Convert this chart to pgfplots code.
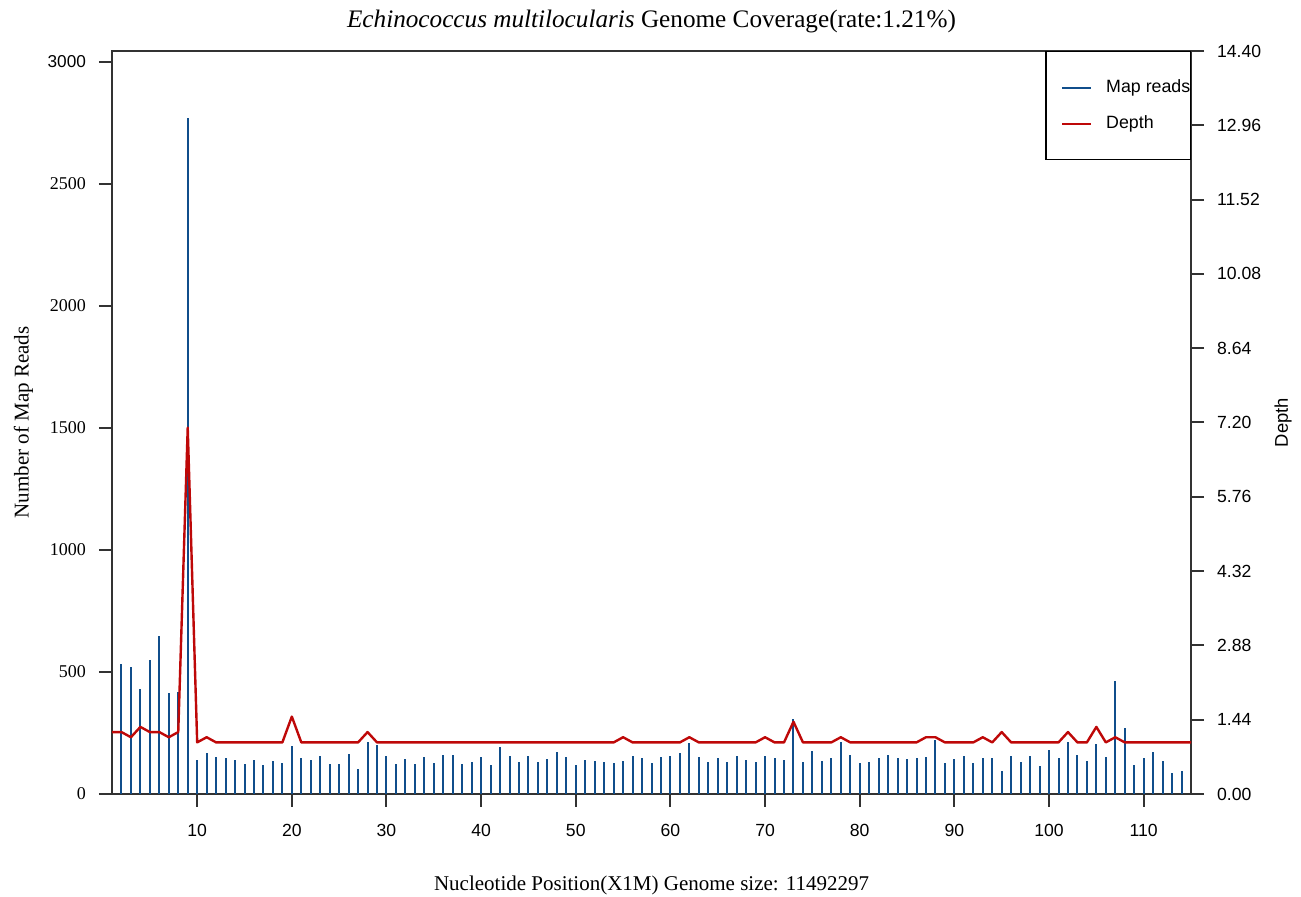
\documentclass[border=0pt]{standalone}
\usepackage{fontspec}
\setmainfont{Liberation Serif}
\setsansfont{Liberation Sans}
\usepackage{pgfplots}
\usepackage{pgfplotstable}
\pgfplotsset{compat=1.18}

\definecolor{barblue}{RGB}{16,78,139}
\definecolor{depthred}{RGB}{190,8,8}
\definecolor{axisgray}{RGB}{50,50,50}

% x, map reads, depth
\pgfplotstableread{
x reads depth
1 nan 1.2
2 531 1.2
3 520 1.1
4 430 1.3
5 548 1.2
6 649 1.2
7 415 1.1
8 418 1.2
9 2769 7.1
10 139 1.0
11 169 1.1
12 150 1.0
13 149 1.0
14 139 1.0
15 123 1.0
16 139 1.0
17 120 1.0
18 137 1.0
19 128 1.0
20 197 1.5
21 148 1.0
22 139 1.0
23 156 1.0
24 123 1.0
25 124 1.0
26 164 1.0
27 102 1.0
28 213 1.2
29 200 1.0
30 155 1.0
31 123 1.0
32 143 1.0
33 123 1.0
34 152 1.0
35 126 1.0
36 160 1.0
37 158 1.0
38 124 1.0
39 133 1.0
40 150 1.0
41 117 1.0
42 194 1.0
43 156 1.0
44 130 1.0
45 156 1.0
46 133 1.0
47 145 1.0
48 171 1.0
49 152 1.0
50 119 1.0
51 139 1.0
52 135 1.0
53 130 1.0
54 126 1.0
55 135 1.1
56 156 1.0
57 146 1.0
58 126 1.0
59 152 1.0
60 156 1.0
61 168 1.0
62 210 1.1
63 153 1.0
64 133 1.0
65 149 1.0
66 133 1.0
67 154 1.0
68 141 1.0
69 131 1.0
70 154 1.1
71 148 1.0
72 141 1.0
73 307 1.4
74 130 1.0
75 176 1.0
76 137 1.0
77 149 1.0
78 214 1.1
79 160 1.0
80 127 1.0
81 133 1.0
82 148 1.0
83 160 1.0
84 148 1.0
85 145 1.0
86 147 1.0
87 152 1.1
88 221 1.1
89 126 1.0
90 143 1.0
91 154 1.0
92 126 1.0
93 148 1.1
94 148 1.0
95 96 1.2
96 154 1.0
97 131 1.0
98 154 1.0
99 113 1.0
100 179 1.0
101 146 1.0
102 213 1.2
103 158 1.0
104 135 1.0
105 204 1.3
106 152 1.0
107 462 1.1
108 270 1.0
109 120 1.0
110 148 1.0
111 171 1.0
112 137 1.0
113 86 1.0
114 94 1.0
115 nan 1.0
}\covtable

\pgfplotsset{
  covaxis/.style={
    scale only axis, width=539.5pt, height=371.5pt,
    xmin=1, xmax=115,
    tick align=outside, major tick length=6.5pt,
    axis line style={line width=1pt, color=axisgray, -},
    every tick/.style={line width=1pt, color=axisgray},
    /pgf/number format/assume math mode=true,
  },
}

\begin{document}
\begin{tikzpicture}
\useasboundingbox (-56pt,-51.5pt) rectangle (594.5pt,397pt);
\begin{axis}[
    covaxis,
    ymin=0, ymax=3045,
    xtick={10,20,...,110},
    ytick={0,500,1000,1500,2000,2500,3000},
    yticklabels={0,500,1000,1500,2000,2500,{\sffamily\fontsize{8.6}{10}\selectfont 3000}},
    xtick pos=bottom, ytick pos=left,
    xticklabel style={font=\sffamily\fontsize{8.8}{10}\selectfont, yshift=-5pt},
    yticklabel style={font=\fontsize{9}{10}\selectfont, xshift=-3pt},
    xlabel={Nucleotide Position(X1M) Genome size: 11492297},
    xlabel style={at={(axis description cs:0.5,-0.1225)}, anchor=center, font=\fontsize{10.5}{12}\selectfont},
    ylabel={Number of Map Reads},
    ylabel style={at={(axis description cs:-0.082,0.5)}, anchor=center, font=\fontsize{10.5}{12}\selectfont},
    title={\textit{Echinococcus multilocularis} Genome Coverage(rate:1.21\%)},
    title style={at={(axis description cs:0.5,1.024)}, anchor=center, font=\fontsize{12.6}{15}\selectfont},
  ]
  \addplot[ycomb, draw=barblue, line width=1pt] table[x=x, y=reads] {\covtable};
\end{axis}
\begin{axis}[
    covaxis,
    ymin=0, ymax=14.4,
    hide x axis,
    axis y line*=right,
    ytick={0,1.44,2.88,4.32,5.76,7.2,8.64,10.08,11.52,12.96,14.4},
    yticklabels={0.00,1.44,2.88,4.32,5.76,7.20,8.64,10.08,11.52,12.96,14.40},
    yticklabel style={font=\sffamily\fontsize{8.8}{10}\selectfont, xshift=3pt},
    ylabel={Depth},
    ylabel style={at={(axis description cs:1.0853,0.5)}, anchor=center, font=\sffamily\fontsize{9.2}{10}\selectfont},
    legend cell align=left,
    legend style={at={(axis description cs:1,1)}, anchor=north east,
      draw, line width=0.7pt,
      font=\sffamily\fontsize{8.9}{10}\selectfont,
      inner xsep=0pt, inner ysep=9pt, row sep=0pt, column sep=7pt,
      nodes={inner sep=0pt, minimum height=18pt}},
  ]
  \addlegendimage{legend image code/.code={\path (0pt,0pt); \draw[draw=barblue, color=barblue, line width=1.1pt] (7.5pt,0pt) -- (22pt,0pt);}}
  \addlegendentry{Map reads}
  \addplot[draw=depthred, line width=1.2pt, line join=round,
    legend image code/.code={\path (0pt,0pt); \draw[draw=depthred, color=depthred, line width=1.1pt] (7.5pt,0pt) -- (22pt,0pt);}]
    table[x=x, y=depth] {\covtable};
  \addlegendentry{Depth}
\end{axis}
\end{tikzpicture}
\end{document}
